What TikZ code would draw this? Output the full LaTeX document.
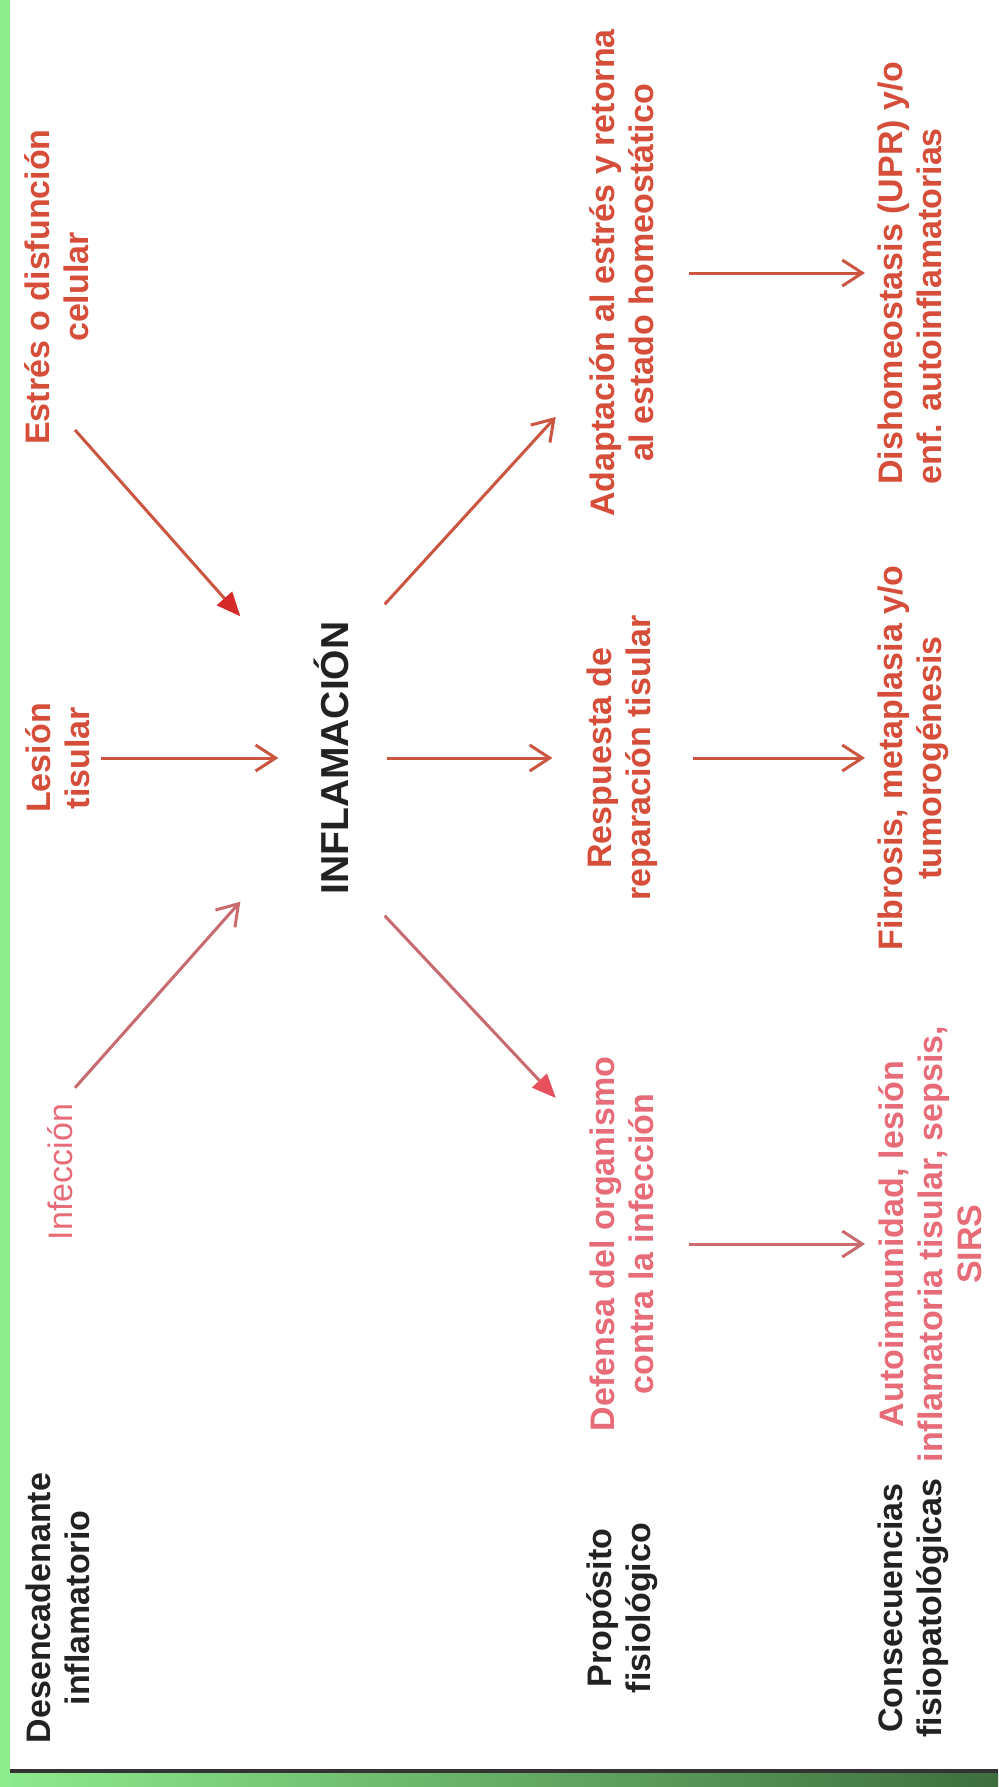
\documentclass[tikz,border=0pt]{standalone}
\usepackage{fontspec}
\setmainfont{Liberation Sans}
\usetikzlibrary{positioning, arrows.meta, calc}
\definecolor{txtred}{HTML}{D64E3A}
\definecolor{txtpink}{HTML}{E86C78}
\definecolor{arrred}{HTML}{CC5540}
\definecolor{arrpink}{HTML}{C96A6E}
\definecolor{headred}{HTML}{D62A2A}
\definecolor{headpink}{HTML}{E8505E}
\definecolor{hdrblack}{HTML}{222222}
\definecolor{lightgreen}{HTML}{8EEB8E}
\definecolor{darkgreen}{HTML}{3E6E3E}

\begin{document}
\begin{tikzpicture}
        [x=1pt, y=-1pt,
         txt/.style={rotate=90, inner sep=0pt, align=center, font=\fontsize{34}{39}\selectfont\bfseries},
         hdr/.style={txt, text=hdrblack},
         redtxt/.style={txt, text=txtred},
         pinktxt/.style={txt, text=txtpink},
         arr/.style={draw=arrred, line width=3pt, -{Straight Barb[length=20pt, width=26pt]}},
         arrfill/.style={draw=arrred, line width=3pt, -{Triangle[length=24pt, width=20pt, color=headred]}}]
        \useasboundingbox (0,0) rectangle (998,1787);
        \fill[white] (0,0) rectangle (998,1787);
        \shade[left color=lightgreen, right color=darkgreen] (0,1773) rectangle (998,1787);
        \fill[black!80] (10,1769) rectangle (998,1773);
        \fill[lightgreen] (0,0) rectangle (10,1787);

        \node[hdr] (desenc) at (58,1608) {Desencadenante\\inflamatorio};
        \node[pinktxt, font=\fontsize{34}{39}\selectfont] (infec) at (60,1172) {Infección};
        \node[redtxt] (lesion) at (58,758) {Lesión\\tisular};
        \node[redtxt] (estres) at (57,287) {Estrés o disfunción\\celular};
        \node[rotate=90, inner sep=0pt, text=hdrblack, font=\fontsize{39}{44}\selectfont\bfseries] (inflam) at (331,758) {INFLAMACIÓN};

        \node[hdr] (prop) at (622,1608) {Propósito\\fisiológico};
        \node[pinktxt] (defensa) at (622,1244) {Defensa del organismo\\contra la infección};
        \node[redtxt] (respuesta) at (622,758) {Respuesta de\\reparación tisular};
        \node[redtxt] (adapt) at (622,273) {Adaptación al estrés y retorna\\al estado homeostático};

        \node[hdr, anchor=north] (consec) at (878,1608) {Consecuencias\\fisiopatológicas};
        \node[pinktxt, anchor=north] (autoin) at (878,1244) {Autoinmunidad, lesión\\inflamatoria tisular, sepsis,\\SIRS};
        \node[redtxt, anchor=north] (fibrosis) at (878,758) {Fibrosis, metaplasia y/o\\tumorogénesis};
        \node[redtxt, anchor=north, align=left] (dishom) at (878,273) {Dishomeostasis (UPR) y/o\\enf. autoinflamatorias};

        \path ($(estres.west)+(18,-15)$) edge[arrfill] ($(inflam.north east)+(-73,-5)$);
        \path ($(infec.east)+(15,-16)$) edge[arr, draw=arrpink] ($(inflam.north west)+(-73,7)$);
        \path (lesion) edge[arr, shorten <=11pt, shorten >=35pt] (inflam);

        \path ($(inflam.south east)+(36,-17)$) edge[arr] ($(adapt.north)+(-34,144)$);
        \path (inflam) edge[arr, shorten <=38pt, shorten >=34pt] (respuesta);
        \path ($(inflam.south west)+(36,21)$) edge[arrfill, draw=arrpink, -{Triangle[length=24pt, width=20pt, color=headpink]}] ($(defensa.north)+(-34,-146)$);

        \path (adapt) edge[arr, shorten <=35pt, shorten >=13pt] (dishom);
        \path (respuesta) edge[arr, shorten <=35pt, shorten >=13pt] (fibrosis);
        \path (defensa) edge[arr, draw=arrpink, shorten <=35pt, shorten >=13pt] (autoin);
    \end{tikzpicture}
\end{document}
